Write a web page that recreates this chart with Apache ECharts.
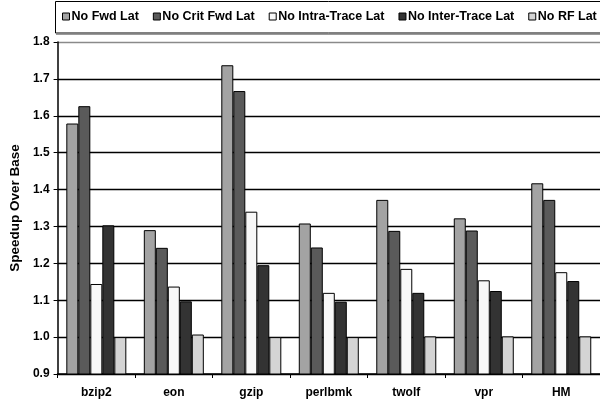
<!DOCTYPE html>
<html>
<head>
<meta charset="utf-8">
<script src="https://cdn.jsdelivr.net/npm/echarts@6/dist/echarts.min.js"></script>
<style>
  html, body { margin: 0; padding: 0; background: #fff; }
  #chart { width: 600px; height: 404px; }
</style>
</head>
<body>
<div id="chart"></div>
<script>
// Benchmarks on the x axis
const benchmarks = ['bzip2', 'eon', 'gzip', 'perlbmk', 'twolf', 'vpr', 'HM'];

// Speedup over base for each latency experiment
const noFwdLat        = [1.579, 1.290, 1.737, 1.308, 1.372, 1.322, 1.417];
const noCritFwdLat    = [1.626, 1.242, 1.667, 1.243, 1.288, 1.289, 1.372];
const noIntraTraceLat = [1.144, 1.137, 1.340, 1.120, 1.185, 1.154, 1.176];
const noInterTraceLat = [1.303, 1.097, 1.195, 1.096, 1.120, 1.125, 1.152];
const noRFLat         = [1.000, 1.007, 1.000, 1.000, 1.002, 1.002, 1.002];

const seriesNames = ['No Fwd Lat', 'No Crit Fwd Lat', 'No Intra-Trace Lat', 'No Inter-Trace Lat', 'No RF Lat'];
const seriesData = [noFwdLat, noCritFwdLat, noIntraTraceLat, noInterTraceLat, noRFLat];
const seriesColors = ['#a3a3a3', '#5a5a5a', '#f8f8f8', '#333333', '#d4d4d4'];

const FONT = 'Liberation Sans, Arial, sans-serif';

const chart = echarts.init(document.getElementById('chart'), null, { renderer: 'canvas' });

chart.setOption({
  animation: false,
  backgroundColor: '#ffffff',
  graphic: [
    // legend frame
    { type: 'rect', z: 0, shape: { x: 55.5, y: 1.5, width: 560, height: 31.5 },
      style: { fill: '#ffffff', stroke: '#000000', lineWidth: 1 } },
    { type: 'line', z: 0, shape: { x1: 56, y1: 34.5, x2: 600, y2: 34.5 },
      style: { stroke: '#9a9a9a', lineWidth: 1 } }
  ],
  legend: {
    data: seriesNames,
    left: 62,
    top: 10,
    padding: 0,
    itemWidth: 7,
    itemHeight: 7,
    itemGap: 14,
    icon: 'rect',
    itemStyle: { borderColor: '#000', borderWidth: 1 },
    textStyle: { fontFamily: FONT, fontSize: 12.5, fontWeight: 'bold', color: '#000', padding: [0, 0, 0, -3] },
    selectedMode: false
  },
  grid: { left: 54, right: -1, top: 42, bottom: 30, containLabel: false },
  xAxis: {
    type: 'category',
    data: benchmarks,
    axisLine: { lineStyle: { color: '#000', width: 1.5 } },
    axisTick: { show: true, length: 4, lineStyle: { color: '#000', width: 1 } },
    axisLabel: { fontFamily: FONT, fontSize: 12, fontWeight: 'bold', color: '#000', margin: 13 }
  },
  yAxis: {
    type: 'value',
    min: 0.9,
    max: 1.8,
    interval: 0.1,
    name: 'Speedup Over Base',
    nameLocation: 'middle',
    nameGap: 30,
    nameTextStyle: { fontFamily: FONT, fontSize: 13.5, fontWeight: 'bold', color: '#000' },
    axisLine: { show: true, lineStyle: { color: '#000', width: 1.5 } },
    axisTick: { show: true, length: 4, lineStyle: { color: '#000', width: 1 } },
    axisLabel: {
      fontFamily: FONT, fontSize: 12, fontWeight: 'bold', color: '#000', margin: 8,
      formatter: v => v.toFixed(1)
    },
    splitLine: {
      show: true,
      lineStyle: {
        color: ['#000', '#000', '#000', '#000', '#000', '#000', '#000', '#000', '#000', '#8a8a8a'],
        width: 1.4
      }
    }
  },
  series: seriesNames.map((name, i) => ({
    name: name,
    type: 'bar',
    data: seriesData[i],
    barWidth: 12,
    barGap: '0%',
    itemStyle: { color: seriesColors[i], borderColor: '#000', borderWidth: 1 }
  }))
});
</script>
</body>
</html>
